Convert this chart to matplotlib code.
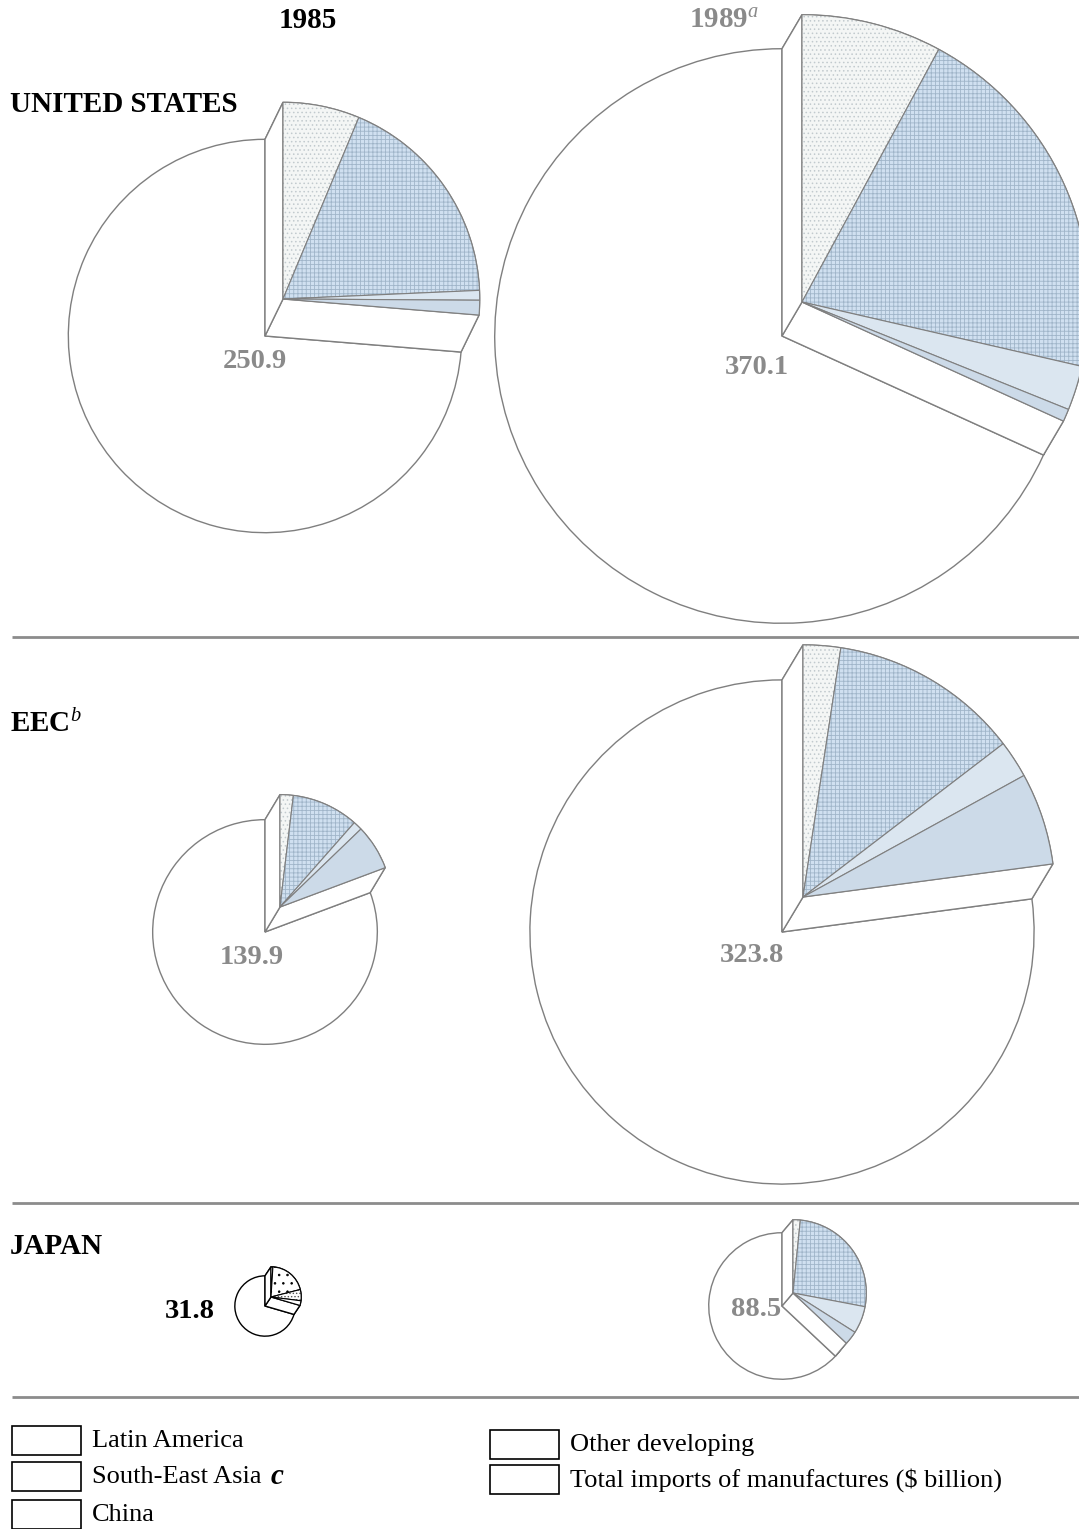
import numpy as np
import matplotlib.pyplot as plt
from matplotlib.patches import Wedge, Polygon, Rectangle

plt.rcParams['font.family'] = ['Liberation Serif', 'DejaVu Serif']
plt.rcParams['mathtext.fontset'] = 'custom'
plt.rcParams['mathtext.rm'] = 'Liberation Serif'
plt.rcParams['mathtext.it'] = 'Liberation Serif:italic'
plt.rcParams['hatch.linewidth'] = 0.6

W, H = 1079, 1529

regions = ["Latin America", "South-East Asia", "China", "Other developing"]
markets = ["UNITED STATES", "EEC$^{b}$", "JAPAN"]
years = ["1985", "1989$^{a}$"]

# total imports of manufactures, $ billion (1985, 1989)
us_total = [250.9, 370.1]
eec_total = [139.9, 323.8]
japan_total = [31.8, 88.5]

# share of total imports (%) coming from each developing region
us_share = [[6.3, 18.0, 0.8, 1.2], [7.9, 20.7, 2.5, 0.7]]
eec_share = [[1.9, 9.6, 1.3, 6.5], [2.4, 12.2, 2.4, 5.9]]
japan_share = [[1.0, 20.0, 6.0, 2.5], [1.6, 26.4, 6.0, 3.0]]

# pie centres (pixels from top-left), lift of the exploded block, label offset
col_x = [265, 782]
row_y = [336, 932, 1306]
lifts = [[(18, -37), (20, -34)], [(15, -25), (21, -35)], [(6, -9), (11, -13)]]
label_off = [[(-10, 26), (-25, 31)], [(-13, 26), (-30, 24)], [(-75, 6), (-26, 3)]]

# face colour, hatch, hatch colour for each region
tint = [('#f4f6f5', '....', '#c2cace'),
        ('#d0e0f0', '++++', '#a0b5c9'),
        ('#dbe6f0', None, '#dbe6f0'),
        ('#ccdae8', None, '#ccdae8')]
mono = [('white', None, 'white'),
        ('white', '..', 'black'),
        ('white', '.....', '#555555'),
        ('white', None, 'white')]

fig = plt.figure(figsize=(W / 100, H / 100), dpi=100)
ax = fig.add_axes([0, 0, 1, 1])
ax.set_xlim(0, W)
ax.set_ylim(H, 0)
ax.axis('off')


def radius(total):
    return 6 + 0.76 * total


def arc(cx, cy, r, t1, t2, n=80):
    t = np.radians(np.linspace(t1, t2, n))
    return np.column_stack([cx + r * np.cos(t), cy + r * np.sin(t)])


def draw_pie(cx, cy, total, shares, lift, palette, line):
    r = radius(total)
    t0 = -90.0                      # straight up (y axis is inverted)
    t1 = t0 + 3.6 * sum(shares)     # sweeps clockwise on screen
    fx, fy = cx + lift[0], cy + lift[1]

    # rest of the world
    ax.add_patch(Wedge((cx, cy), r, t1, t0 + 360, facecolor='white',
                       edgecolor=line, lw=1.0))

    # sides of the raised block
    back = arc(cx, cy, r, t0, t1)
    front = arc(fx, fy, r, t0, t1)
    side = dict(facecolor='white', edgecolor=line, lw=1.0)
    ax.add_patch(Polygon(np.vstack([back, front[::-1]]), closed=True, **side))
    ax.add_patch(Polygon([(cx, cy), back[-1], front[-1], (fx, fy)], **side))
    ax.add_patch(Polygon([(cx, cy), back[0], front[0], (fx, fy)], **side))

    # developing-country slices on top
    a = t0
    for s, (fc, hatch, hc) in zip(shares, palette):
        b = a + 3.6 * s
        ax.add_patch(Wedge((fx, fy), r, a, b, facecolor=fc, edgecolor=hc,
                           hatch=hatch, lw=0))
        ax.add_patch(Wedge((fx, fy), r, a, b, fill=False, edgecolor=line,
                           lw=0.8))
        a = b


totals = [us_total, eec_total, japan_total]
shares = [us_share, eec_share, japan_share]

for i in range(3):
    for j in range(2):
        mono_print = (i == 2 and j == 0)
        pal = mono if mono_print else tint
        line = 'black' if mono_print else '#7f7f7f'
        cx, cy = col_x[j], row_y[i]
        draw_pie(cx, cy, totals[i][j], shares[i][j], lifts[i][j], pal, line)
        lx, ly = label_off[i][j]
        ax.text(cx + lx, cy + ly, f"{totals[i][j]:.1f}", ha='center',
                va='center', fontsize=20.5, fontweight='bold',
                color='black' if mono_print else '#8a8a8a')

# column and row headings
ax.text(308, 21, years[0], ha='center', va='center', fontsize=21,
        fontweight='bold')
ax.text(724, 20, years[1], ha='center', va='center', fontsize=21,
        fontweight='bold', color='#8a8a8a')
for name, y in zip(markets, [105, 724, 1246]):
    ax.text(10, y, name, ha='left', va='center', fontsize=21,
            fontweight='bold')

# separators
for y in [637, 1203, 1397]:
    ax.plot([12, W], [y, y], color='#8c8c8c', lw=2, solid_capstyle='butt')

# key
key_left = [(12, 1426, 'Latin America'), (12, 1462, 'South-East Asia'),
            (12, 1500, 'China')]
key_right = [(490, 1430, 'Other developing'),
             (490, 1465, 'Total imports of manufactures (\\$ billion)')]
for x, y, txt in key_left + key_right:
    ax.add_patch(Rectangle((x, y), 69, 29, facecolor='white',
                           edgecolor='black', lw=1.2))
    ax.text(x + 80, y + 15, txt, ha='left', va='center', fontsize=19)
ax.text(271, 1477, 'c', ha='left', va='center', fontsize=21,
        fontweight='bold', fontstyle='italic')

fig.savefig('out.png', dpi=100, facecolor='white')
